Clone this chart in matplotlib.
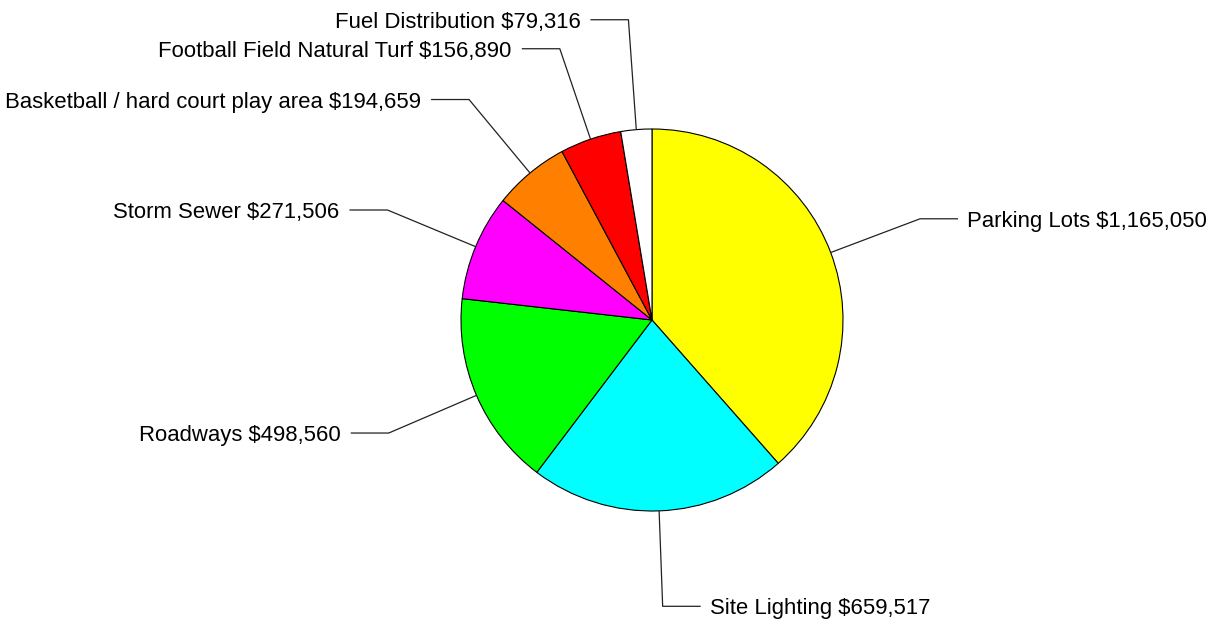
import matplotlib
matplotlib.use("Agg")
import matplotlib.pyplot as plt
import numpy as np

categories = [
    "Parking Lots",
    "Site Lighting",
    "Roadways",
    "Storm Sewer",
    "Basketball / hard court play area",
    "Football Field Natural Turf",
    "Fuel Distribution",
]
costs = [1165050, 659517, 498560, 271506, 194659, 156890, 79316]
colors = ["#FFFF00", "#00FFFF", "#00FF00", "#FF00FF", "#FF8000", "#FF0000", "#FFFFFF"]

W, H = 1210, 624
CX, CY, R = 652, H - 320, 191
ELBOW = 1.5 * R
ARM = 38
MIN_GAP = 29

plt.rcParams["font.family"] = ["Liberation Sans", "DejaVu Sans"]

fig = plt.figure(figsize=(W / 100, H / 100), dpi=100)
ax = fig.add_axes([0, 0, 1, 1])

wedges, _ = ax.pie(
    costs, colors=colors, startangle=90, counterclock=False,
    center=(CX, CY), radius=R,
    wedgeprops=dict(edgecolor="black", linewidth=0.8),
)
ax.set_xlim(0, W)
ax.set_ylim(0, H)
ax.set_aspect("equal")
ax.axis("off")

# leader line anchors from wedge mid angles
labels = []
for w, name, val in zip(wedges, categories, costs):
    mid = np.deg2rad((w.theta1 + w.theta2) / 2)
    x0, y0 = CX + R * np.cos(mid), CY + R * np.sin(mid)
    xe, ye = CX + ELBOW * np.cos(mid), CY + ELBOW * np.sin(mid)
    side = 1 if np.cos(mid) >= 0 else -1
    labels.append(dict(x0=x0, y0=y0, xe=xe, ye=ye, side=side,
                       text=f"{name} ${val:,}"))

# push labels apart on each side
for side in (1, -1):
    group = sorted([l for l in labels if l["side"] == side], key=lambda l: l["ye"])
    for prev, cur in zip(group, group[1:]):
        if cur["ye"] - prev["ye"] < MIN_GAP:
            cur["ye"] = prev["ye"] + MIN_GAP

for l in labels:
    s = l["side"]
    xa = l["xe"] + s * ARM
    ax.plot([l["x0"], l["xe"], xa], [l["y0"], l["ye"], l["ye"]],
            color="#222222", lw=0.9, solid_capstyle="butt")
    gap = 9 if s > 0 else 10
    ax.text(xa + s * gap, l["ye"], l["text"], fontsize=15.9,
            ha="left" if s > 0 else "right", va="center_baseline", color="black")

fig.savefig("out.png", dpi=100, facecolor="white")
